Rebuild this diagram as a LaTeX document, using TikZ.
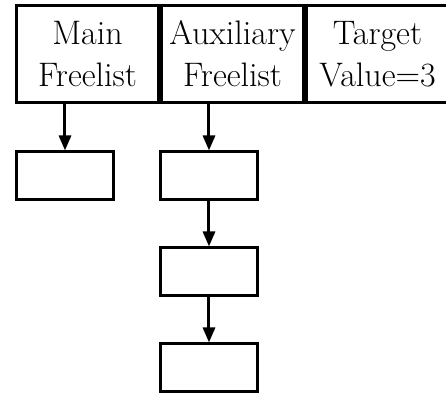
\documentclass[tikz,border=0pt]{standalone}
\usetikzlibrary{arrows.meta}
\begin{document}
\begin{tikzpicture}[x=0.5pt,y=-0.5pt]
    \tikzstyle{head}=[draw=black,line width=1.5pt,minimum width=71pt,minimum height=48.5pt,inner sep=0pt,align=center,font=\fontsize{17}{21}\selectfont]
    \tikzstyle{cell}=[draw=black,line width=1.5pt,minimum width=48.5pt,minimum height=24pt,inner sep=0pt]
    \tikzstyle{link}=[black,line width=1.5pt,-{Triangle[length=7.5pt,width=6pt]}]
    \useasboundingbox (0,0) rectangle (446,396);
    \node [head] (main) at (87.5,54) {Main\\Freelist};
    \node [head] (aux) at (232.5,54) {Auxiliary\\Freelist};
    \node [head] (target) at (377.5,54) {Target\\Value=3};
    \node [cell] (m1) at (65,176) {};
    \node [cell] (a1) at (209,176) {};
    \node [cell] (a2) at (209,272) {};
    \node [cell] (a3) at (209,368) {};
    \draw [link] (m1 |- main.south) -- (m1);
    \draw [link] (a1 |- aux.south) -- (a1);
    \draw [link] (a1) -- (a2);
    \draw [link] (a2) -- (a3);
\end{tikzpicture}
\end{document}
